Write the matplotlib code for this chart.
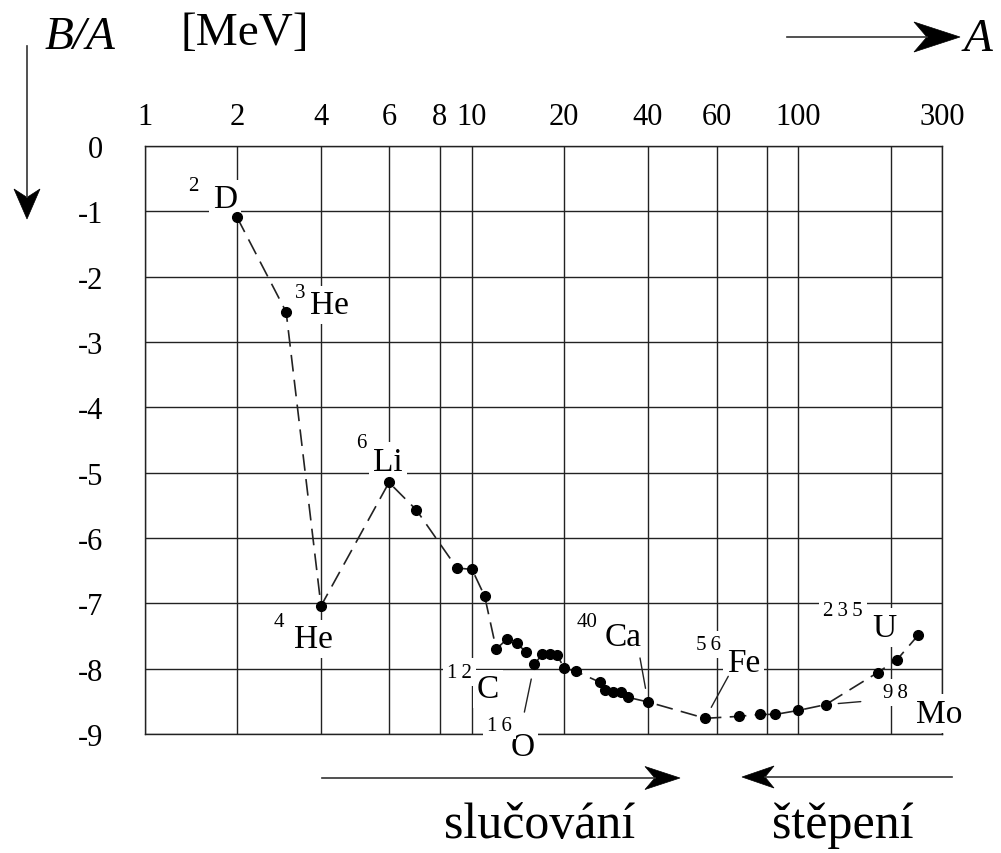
import matplotlib
matplotlib.use('Agg')
import matplotlib.pyplot as plt
import numpy as np
from matplotlib.patches import Polygon
from matplotlib.lines import Line2D
from matplotlib.ticker import FixedLocator, FixedFormatter

plt.rcParams['font.family'] = 'Liberation Serif'
plt.rcParams['axes.unicode_minus'] = False

# mass number A and binding energy per nucleon B/A [MeV]
mass_number = [2, 3, 4, 6, 7, 9, 10, 11, 12, 13, 14, 15, 16, 17, 18, 19, 20, 22,
               27, 28, 30, 32, 34, 40, 56, 68, 77, 85, 100, 123, 181, 210, 248]
binding = [-1.09, -2.54, -7.04, -5.15, -5.57, -6.46, -6.48, -6.89, -7.70, -7.55,
           -7.60, -7.75, -7.93, -7.78, -7.78, -7.79, -7.99, -8.04, -8.21, -8.32,
           -8.35, -8.35, -8.44, -8.51, -8.76, -8.73, -8.70, -8.70, -8.64, -8.55,
           -8.06, -7.86, -7.49]

x_grid = [1, 2, 4, 6, 8, 10, 20, 40, 60, 80, 100, 200, 300]
x_labels = ['1', '2', '4', '6', '8', '10', '20', '40', '60', '', '100', '', '300']
y_grid = [0, -1, -2, -3, -4, -5, -6, -7, -8, -9]
y_labels = ['0', '-1', '-2', '-3', '-4', '-5', '-6', '-7', '-8', '-9']

# labelled nuclides: point they sit at, mass label, symbol
label_at = [2, 3, 4, 6, 12, 16, 40, 56, 123, 248]
label_mass = ['2', '3', '4', '6', '1\u20092', '1\u20096', '40', '5\u20096', '9\u20098', '2\u20093\u20095']
label_sym = ['D', 'He', 'He', 'Li', 'C', 'O', 'Ca', 'Fe', 'Mo', 'U']

W, H = 1001, 854
fig = plt.figure(figsize=(W / 100, H / 100), dpi=100)
ax = fig.add_axes([145 / W, 1 - 735 / H, (942 - 145) / W, (735 - 147) / H])

# the printed axis is only roughly logarithmic: follow where its grid lines sit
grid_pos = np.array([145, 237, 321, 389, 440, 472, 564, 648, 717, 767, 798, 891, 942], float)
grid_log = np.log10(x_grid)


def forward(x):
    x = np.clip(np.asarray(x, float), 1e-3, None)
    return np.interp(np.log10(x), grid_log, grid_pos)


def inverse(p):
    return 10 ** np.interp(p, grid_pos, grid_log)


ax.set_xscale('function', functions=(forward, inverse))
ax.set_xlim(1, 300)
ax.set_ylim(-9, 0)

ax.xaxis.set_major_locator(FixedLocator(x_grid))
ax.xaxis.set_major_formatter(FixedFormatter(x_labels))
ax.xaxis.set_minor_locator(FixedLocator([]))
ax.yaxis.set_major_locator(FixedLocator(y_grid))
ax.yaxis.set_major_formatter(FixedFormatter(y_labels))
ax.xaxis.tick_top()
ax.tick_params(axis='x', length=0, pad=11, labelsize=22)
ax.tick_params(axis='y', length=0, pad=30, labelsize=22)

ax.set_axisbelow(True)
ax.grid(True, color='#222222', lw=1.0)
for sp in ax.spines.values():
    sp.set_color('#222222')
    sp.set_linewidth(1.0)

ax.plot(mass_number, binding, color='#222222', lw=1.2, dashes=(10, 5), zorder=2.5)
ax.plot(mass_number, binding, 'o', color='black', ms=7, zorder=4)

# label offsets in pixels (symbol, mass number) relative to the point
sym_off = [(-12, 18), (43, 7), (-8, -33), (-1, 21), (-8, -40), (-12, -83),
           (-25, 65), (38, 56), (113, -9), (-34, 8)]
mass_off = [(-44, 32), (14, 19), (-42, -16), (-28, 40), (-37, -23), (-35, -61),
            (-61, 80), (3, 74), (70, 12), (-75, 25)]
box = dict(facecolor='white', edgecolor='none', pad=3)
for a, m, s, so, mo in zip(label_at, label_mass, label_sym, sym_off, mass_off):
    b = binding[mass_number.index(a)]
    ax.annotate(s, (a, b), xytext=so, textcoords='offset pixels', ha='center',
                va='center', fontsize=24, bbox=box, zorder=3, annotation_clip=False)
    ax.annotate(m, (a, b), xytext=mo, textcoords='offset pixels', ha='center',
                va='center', fontsize=15, bbox=box, zorder=3, annotation_clip=False)

# leader lines from labels to points
leaders = {16: ((-10, -48), 11), 40: ((-8, 44), 10), 56: ((23, 42), 9), 123: ((35, 3), 9)}
for a, (off, shrink) in leaders.items():
    b = binding[mass_number.index(a)]
    ax.annotate('', (a, b), xytext=off, textcoords='offset pixels',
                arrowprops=dict(arrowstyle='-', color='#222222', lw=1.0,
                                shrinkA=0, shrinkB=shrink), zorder=3.5)


def fx(x):
    return x / W


def fy(y):
    return 1 - y / H


def arrow(x0, y0, x1, y1, length, width):
    d = np.array([x1 - x0, y1 - y0], dtype=float)
    d /= np.hypot(*d)
    n = np.array([-d[1], d[0]])
    tip = np.array([x1, y1], dtype=float)
    back = tip - length * d
    notch = tip - 0.72 * length * d
    pts = [tip, back + width / 2 * n, notch, back - width / 2 * n]
    fig.add_artist(Line2D([fx(x0), fx(notch[0])], [fy(y0), fy(notch[1])],
                          transform=fig.transFigure, color='#333333', lw=1.2))
    fig.add_artist(Polygon([(fx(p[0]), fy(p[1])) for p in pts], closed=True,
                           transform=fig.transFigure, facecolor='black',
                           edgecolor='black', lw=0.5))


arrow(27, 47, 27, 220, 30, 26)
arrow(787, 38, 960, 38, 46, 30)
arrow(322, 779, 680, 779, 35, 23)
arrow(952, 778, 742, 778, 32, 22)

fig.text(fx(45), fy(38), 'B/A', fontsize=34, style='italic', va='center', ha='left')
fig.text(fx(180), fy(34), '[MeV]', fontsize=34, va='center', ha='left')
fig.text(fx(964), fy(40), 'A', fontsize=34, style='italic', va='center', ha='left')
fig.text(fx(540), fy(826), 'slučování', fontsize=36, va='center', ha='center')
fig.text(fx(843), fy(826), 'štěpení', fontsize=36, va='center', ha='center')

fig.savefig('out.png', dpi=100)
